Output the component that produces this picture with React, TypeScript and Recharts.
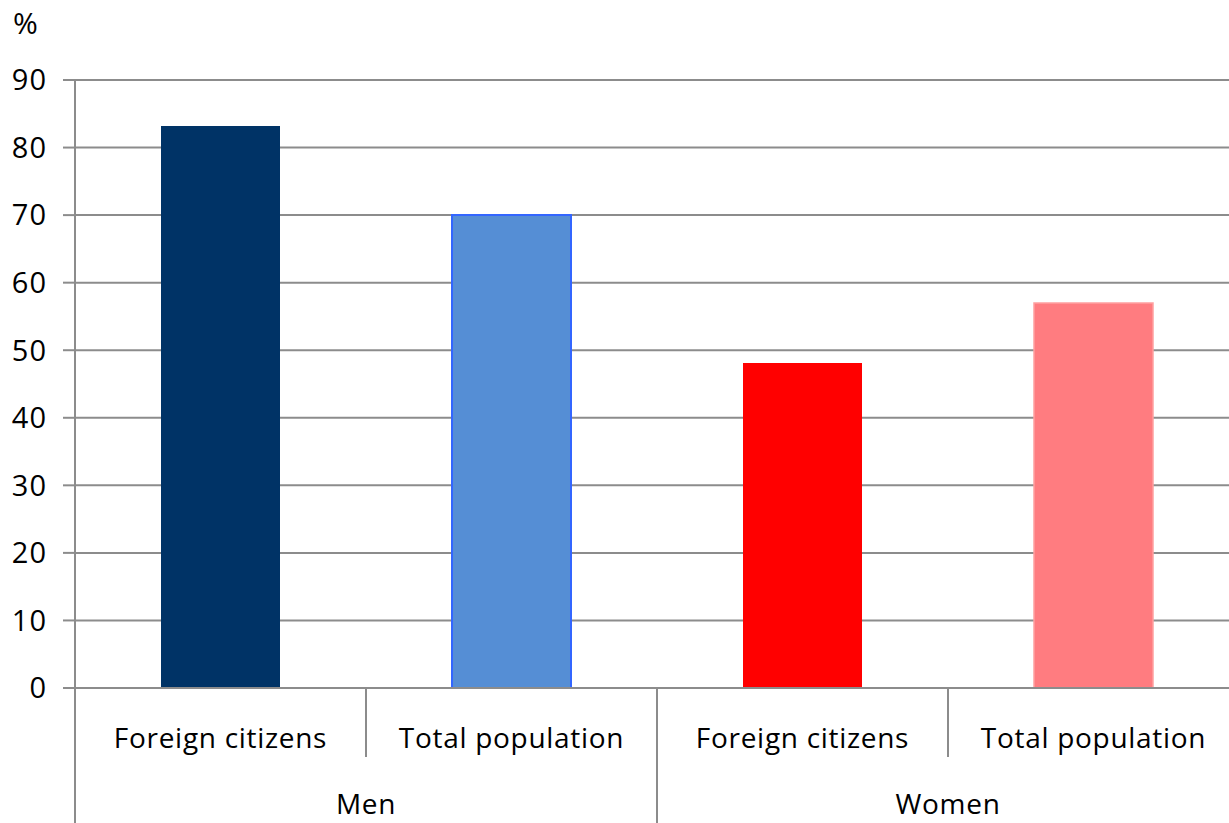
import React from 'react';
import { BarChart, Bar, XAxis, YAxis, CartesianGrid, Cell } from 'recharts';

const groups = ['Men', 'Men', 'Women', 'Women'];
const subLabels = ['Foreign citizens', 'Total population', 'Foreign citizens', 'Total population'];
const values = [83.2, 70.0, 48.1, 57.0];
const barColors = ['#003366', '#558ED5', '#FF0000', '#FF7C80'];
const barStrokes = ['#003366', '#3366FF', '#FF0000', '#FFA0A0'];
const yTicks = [0, 10, 20, 30, 40, 50, 60, 70, 80, 90];

const data = subLabels.map((s, i) => ({ key: `${groups[i]}-${i}`, sub: s, group: groups[i], value: values[i] }));

const VIEW_W = 1229;
const CHART_W = 1239;
const CHART_H = 823;
const Y_AXIS_W = 75;
const MARGIN = { top: 80, right: 0, bottom: 0, left: 0 };
const X_AXIS_H = 135;
const BAND = (CHART_W - Y_AXIS_W - MARGIN.left - MARGIN.right) / data.length;
const FONT = "'Open Sans', sans-serif";
const GRID = '#8C8C8C';

const XTick = (props: any) => {
  const { x, y, index } = props;
  const half = BAND / 2;
  const left = x - half;
  const isGroupStart = index === 0 || groups[index] !== groups[index - 1];
  let groupLabel = null;
  if (isGroupStart) {
    let n = 1;
    while (index + n < data.length && groups[index + n] === groups[index]) n++;
    const cx = left + (n * BAND) / 2;
    groupLabel = (
      <text x={cx} y={y + 126} textAnchor="middle" fontFamily={FONT} fontSize={28} letterSpacing={0.7} fill="#000">
        {groups[index]}
      </text>
    );
  }
  return (
    <g>
      <line x1={left} y1={y} x2={left} y2={isGroupStart ? y + 135 : y + 69} stroke={GRID} strokeWidth={2} />
      <text x={x} y={y + 60} textAnchor="middle" fontFamily={FONT} fontSize={28} letterSpacing={0.7} fill="#000">
        {subLabels[index]}
      </text>
      {groupLabel}
    </g>
  );
};

export default function App() {
  return (
    <div style={{ position: 'absolute', left: 0, top: 0, width: VIEW_W, height: CHART_H, overflow: 'hidden', background: '#fff' }}>
      <div style={{ position: 'absolute', left: 13, top: 2, fontFamily: FONT, fontSize: 30, lineHeight: 'normal', color: '#000' }}>%</div>
      <BarChart width={CHART_W} height={CHART_H} data={data} margin={MARGIN}>
        <CartesianGrid horizontal vertical={false} stroke={GRID} strokeWidth={2} />
        <YAxis
          type="number"
          domain={[0, 90]}
          ticks={yTicks}
          width={Y_AXIS_W}
          interval={0}
          tickSize={12}
          tickMargin={16}
          axisLine={{ stroke: GRID, strokeWidth: 2 }}
          tickLine={{ stroke: GRID, strokeWidth: 2 }}
          tick={{ fontFamily: FONT, fontSize: 29, letterSpacing: 1, fill: '#000' }}
        />
        <XAxis
          dataKey="key"
          height={X_AXIS_H}
          interval={0}
          tickSize={0}
          tickMargin={0}
          axisLine={{ stroke: GRID, strokeWidth: 2 }}
          tickLine={false}
          tick={<XTick />}
        />
        <Bar dataKey="value" barSize={119} isAnimationActive={false}>
          {data.map((d, i) => (
            <Cell key={d.key} fill={barColors[i]} stroke={barStrokes[i]} strokeWidth={i === 1 ? 2 : i === 3 ? 1.5 : 0} />
          ))}
        </Bar>
      </BarChart>
    </div>
  );
}
